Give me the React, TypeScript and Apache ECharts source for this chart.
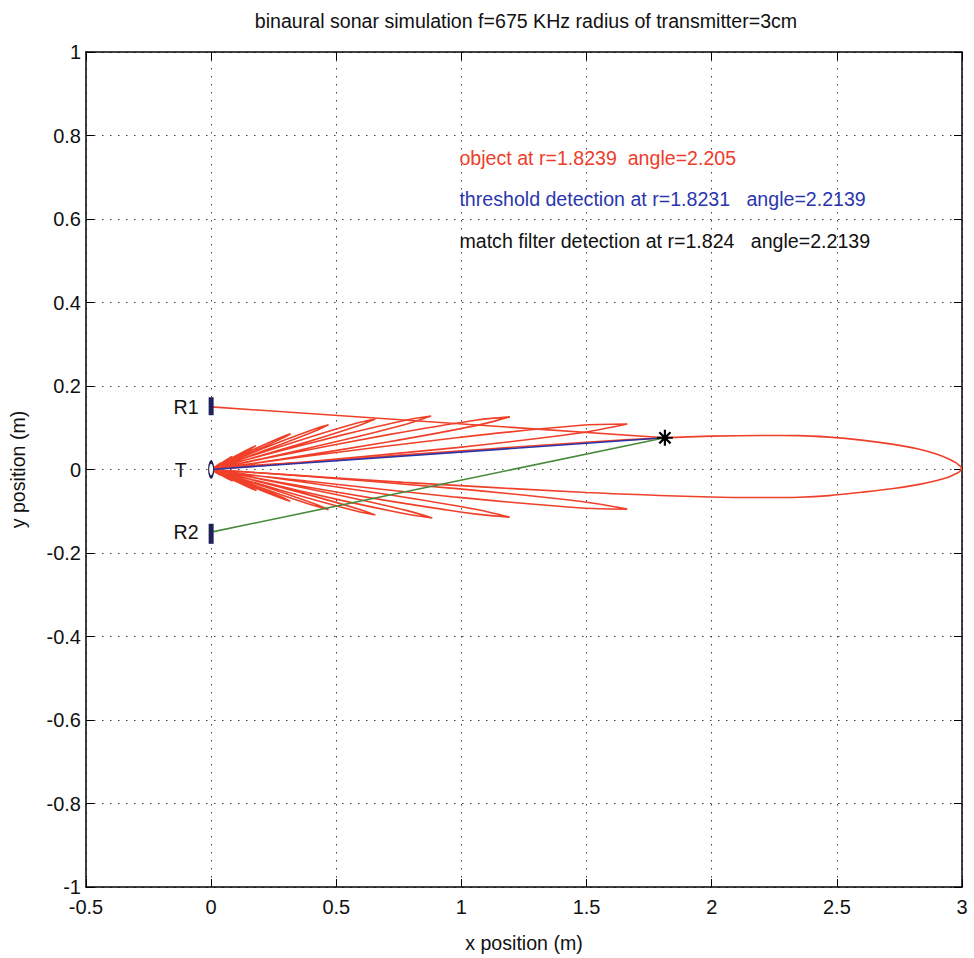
import React, { useEffect, useRef } from "react";
import * as echarts from "echarts";

// Beam pattern, as [angle in degrees, radius in m]
const mainLobe: [number, number][] = [
  [-2.35, 0.3], [-2.3, 0.77], [-2.1, 1.5], [-1.89, 2.0], [-1.75, 2.2], [-1.62, 2.35], [-1.45, 2.47],
  [-1.2, 2.6], [-0.97, 2.72], [-0.72, 2.83], [-0.52, 2.9], [-0.36, 2.945], [-0.2, 2.975], [-0.08, 2.992],
  [0.05, 2.998], [0.18, 2.99], [0.32, 2.975], [0.5, 2.945], [0.72, 2.9], [0.98, 2.83],
  [1.28, 2.72], [1.55, 2.6], [1.8, 2.47], [1.98, 2.35], [2.12, 2.2], [2.29, 2.0],
  [2.4, 1.81], [2.5, 1.5], [2.6, 0.77], [2.65, 0.3],
];

const upperSideLobes: [number, number][][] = [
  [[2.77, 0.383], [3.06, 0.983], [3.4, 1.483], [3.75, 1.666], [4.1, 1.483], [4.44, 0.983], [4.73, 0.383]],
  [[5.05, 0.276], [5.34, 0.708], [5.68, 1.068], [6.03, 1.2], [6.38, 1.068], [6.72, 0.708], [7.01, 0.276]],
  [[7.31, 0.204], [7.6, 0.524], [7.94, 0.79], [8.29, 0.888], [8.64, 0.79], [8.98, 0.524], [9.27, 0.204]],
  [[9.47, 0.153], [9.76, 0.394], [10.1, 0.594], [10.45, 0.667], [10.8, 0.594], [11.14, 0.394], [11.43, 0.153]],
  [[11.87, 0.111], [12.16, 0.284], [12.5, 0.428], [12.85, 0.481], [13.2, 0.428], [13.54, 0.284], [13.83, 0.111]],
  [[14.12, 0.076], [14.41, 0.194], [14.75, 0.293], [15.1, 0.329], [15.45, 0.293], [15.79, 0.194], [16.08, 0.076]],
  [[16.72, 0.043], [17.01, 0.111], [17.35, 0.167], [17.7, 0.188], [18.05, 0.167], [18.39, 0.111], [18.68, 0.043]],
  [[19.3, 0.021], [19.55, 0.053], [19.85, 0.08], [20.2, 0.09], [20.55, 0.08], [20.85, 0.053], [21.1, 0.021]],
  [[22.0, 0.024], [22.6, 0.04], [23.2, 0.024]],
];

const lowerSideLobes: [number, number][][] = [
  [[-2.42, 0.383], [-2.67, 0.982], [-2.97, 1.482], [-3.27, 1.665], [-3.57, 1.482], [-3.87, 0.982], [-4.12, 0.383]],
  [[-4.61, 0.276], [-4.86, 0.707], [-5.16, 1.066], [-5.46, 1.198], [-5.76, 1.066], [-6.06, 0.707], [-6.31, 0.276]],
  [[-6.63, 0.205], [-6.88, 0.526], [-7.18, 0.793], [-7.48, 0.891], [-7.78, 0.793], [-8.08, 0.526], [-8.33, 0.205]],
  [[-8.58, 0.153], [-8.83, 0.392], [-9.13, 0.592], [-9.43, 0.665], [-9.73, 0.592], [-10.03, 0.392], [-10.28, 0.153]],
  [[-10.72, 0.11], [-10.97, 0.283], [-11.27, 0.426], [-11.57, 0.479], [-11.87, 0.426], [-12.17, 0.283], [-12.42, 0.11]],
  [[-12.65, 0.075], [-12.9, 0.192], [-13.2, 0.289], [-13.5, 0.325], [-13.8, 0.289], [-14.1, 0.192], [-14.35, 0.075]],
  [[-14.65, 0.043], [-14.9, 0.111], [-15.2, 0.167], [-15.5, 0.188], [-15.8, 0.167], [-16.1, 0.111], [-16.35, 0.043]],
  [[-16.9, 0.021], [-17.15, 0.053], [-17.45, 0.08], [-17.8, 0.09], [-18.15, 0.08], [-18.45, 0.053], [-18.7, 0.021]],
  [[-19.5, 0.024], [-20.1, 0.04], [-20.7, 0.024]],
];

// Transducers and target (x, y in m)
const transmitter: [number, number] = [0, 0];
const receiverR1: [number, number] = [0, 0.15];
const receiverR2: [number, number] = [0, -0.15];
const r1Aperture: [number, number][] = [[0, 0.13], [0, 0.173]];
const r2Aperture: [number, number][] = [[0, -0.13], [0, -0.178]];
const target: [number, number] = [1.813, 0.076];

const annotationTexts = [
  "object at r=1.8239  angle=2.205",
  "threshold detection at r=1.8231   angle=2.2139",
  "match filter detection at r=1.824   angle=2.2139",
];
const annotationY = [0.745, 0.648, 0.547];
const annotationX = 0.99;
const annotationColors = ["#ee3d2b", "#2b36ad", "#111111"];

const FONT = "'Liberation Sans', Arial, Helvetica, sans-serif";
const RED = "#f0402a";

function toXY(p: [number, number]): [number, number] {
  const a = (p[0] * Math.PI) / 180;
  return [p[1] * Math.cos(a), p[1] * Math.sin(a)];
}

function lobePath(lobes: [number, number][][]): [number, number][] {
  const out: [number, number][] = [];
  for (const lobe of lobes) {
    out.push([0, 0]);
    for (const p of lobe) out.push(toXY(p));
  }
  out.push([0, 0]);
  return out;
}

const fmt = (v: number) => String(Number(v.toFixed(2)));

export default function App() {
  const ref = useRef<HTMLDivElement>(null);
  useEffect(() => {
    if (!ref.current) return;
    const chart = echarts.init(ref.current, null, { renderer: "svg" });
    const axisCommon = {
      axisLine: { show: true, onZero: false, lineStyle: { color: "#000", width: 1.5 } },
      axisTick: { show: true, inside: true, length: 8, lineStyle: { color: "#000", width: 1 } },
    };
    const gridLine = { show: true, lineStyle: { color: "#444", width: 1, type: [1.5, 6.5] as any } };
    const labelSeries = (name: string, pt: [number, number], text: string, pos: string, dist: number, color: string) => ({
      name,
      type: "scatter",
      data: [pt],
      symbolSize: 1,
      itemStyle: { color: "transparent", opacity: 1 },
      silent: true,
      label: {
        show: true,
        position: pos,
        distance: dist,
        formatter: text,
        color,
        opacity: 1,
        fontSize: 19.6,
        fontFamily: FONT,
      },
      z: 10,
    });
    const sideLobes = [...lowerSideLobes.slice().reverse(), ...upperSideLobes];
    chart.setOption({
      animation: false,
      backgroundColor: "#fff",
      title: {
        text: "binaural sonar simulation f=675 KHz radius of transmitter=3cm",
        left: 521,
        textAlign: "center",
        top: 6,
        textStyle: { fontSize: 19.6, fontWeight: "normal", color: "#111", fontFamily: FONT },
      },
      grid: { left: 81, top: 52, width: 881, height: 843, containLabel: false },
      xAxis: [
        {
          type: "value", min: -0.5, max: 3, interval: 0.5,
          name: "x position (m)", nameLocation: "middle", nameGap: 46,
          nameTextStyle: { fontSize: 19.6, color: "#111", fontFamily: FONT },
          ...axisCommon,
          axisLabel: { fontSize: 20, color: "#111", margin: 10, fontFamily: FONT, formatter: fmt },
          splitLine: gridLine,
        },
        {
          type: "value", min: -0.5, max: 3, interval: 0.5, position: "top",
          ...axisCommon, axisLabel: { show: false }, splitLine: { show: false },
        },
      ],
      yAxis: [
        {
          type: "value", min: -1, max: 1, interval: 0.2,
          name: "y position (m)", nameLocation: "middle", nameGap: 58, nameRotate: 90,
          nameTextStyle: { fontSize: 19.6, color: "#111", fontFamily: FONT },
          ...axisCommon,
          axisLabel: { fontSize: 20, color: "#111", margin: 5, fontFamily: FONT, formatter: fmt },
          splitLine: gridLine,
        },
        {
          type: "value", min: -1, max: 1, interval: 0.2, position: "right",
          ...axisCommon, axisLabel: { show: false }, splitLine: { show: false },
        },
      ],
      series: [
        {
          name: "side lobes", type: "line", data: lobePath(sideLobes), symbol: "none", smooth: 0.25,
          lineStyle: { color: RED, width: 1.6 }, z: 3,
        },
        {
          name: "main lobe", type: "line", data: lobePath([mainLobe]), symbol: "none", smooth: 0.3,
          lineStyle: { color: RED, width: 1.6 }, z: 3,
        },
        {
          name: "R1 path", type: "line", data: [receiverR1, target], symbol: "none",
          lineStyle: { color: RED, width: 1.6 }, z: 3,
        },
        {
          name: "threshold", type: "line", data: [transmitter, target], symbol: "none",
          lineStyle: { color: "#2b33a6", width: 1.6 }, z: 4,
        },
        {
          name: "R2 path", type: "line", data: [receiverR2, target], symbol: "none",
          lineStyle: { color: "#468a3a", width: 1.6 }, z: 4,
        },
        {
          name: "R1", type: "line", data: r1Aperture, symbol: "none",
          lineStyle: { color: "#1f2258", width: 5 }, z: 5,
        },
        {
          name: "R2", type: "line", data: r2Aperture, symbol: "none",
          lineStyle: { color: "#1f2258", width: 5 }, z: 5,
        },
        {
          name: "T", type: "scatter", data: [transmitter], symbol: "emptyCircle", symbolSize: [5, 15],
          itemStyle: { color: "#1f2258", borderColor: "#1f2258", borderWidth: 1.6, opacity: 1 }, z: 6,
        },
        {
          name: "target", type: "scatter", data: [target],
          symbol: "path://M10,0L10,20M0,10L20,10M3,3L17,17M3,17L17,3",
          symbolSize: 16,
          itemStyle: { color: "none", borderColor: "#000", borderWidth: 2.2, opacity: 1 }, z: 7,
        },
        labelSeries("lblR1", receiverR1, "R1", "left", 12, "#111"),
        labelSeries("lblT", transmitter, "T", "left", 24, "#111"),
        labelSeries("lblR2", receiverR2, "R2", "left", 12, "#111"),
        ...annotationTexts.map((t, i) =>
          labelSeries("ann" + i, [annotationX, annotationY[i]], t, "right", 0, annotationColors[i])
        ),
      ],
    });
    return () => chart.dispose();
  }, []);
  return (
    <div
      ref={ref}
      style={{ position: "absolute", left: 0, top: 0, width: 974, height: 958, background: "#fff" }}
    />
  );
}
